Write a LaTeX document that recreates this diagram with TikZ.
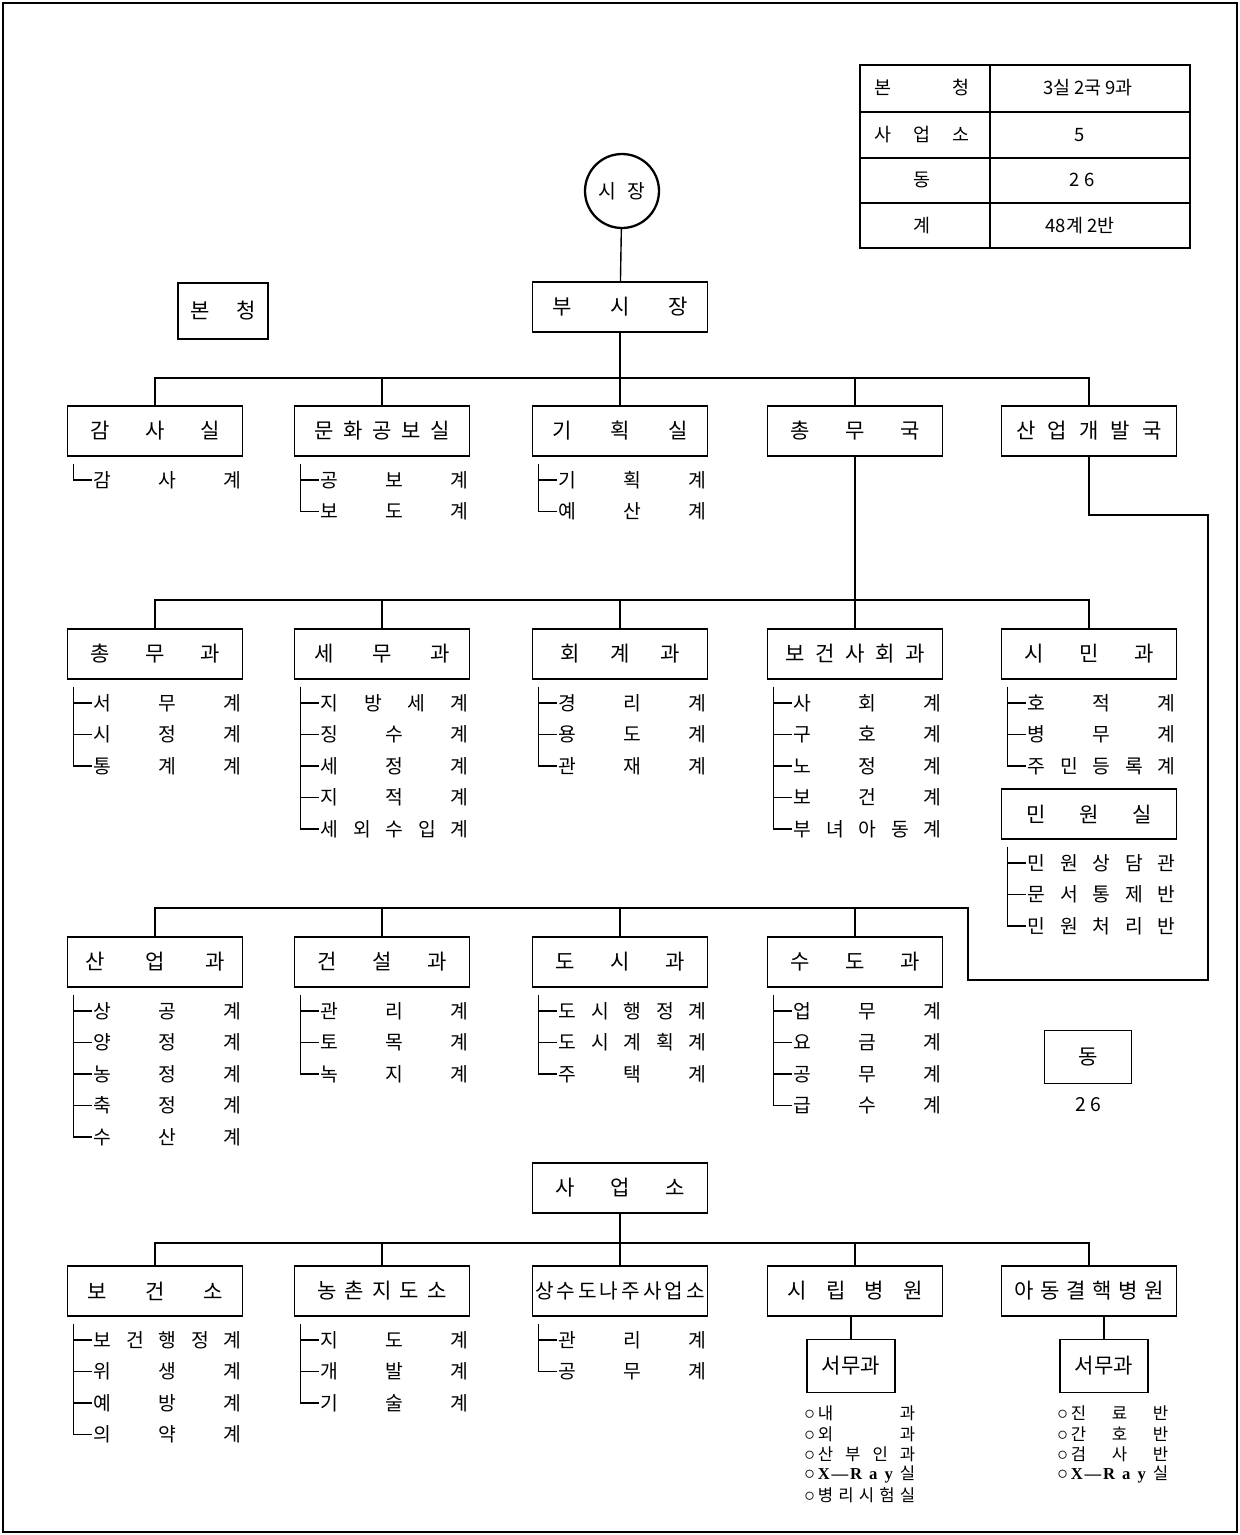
\documentclass[tikz,border=0pt]{standalone}
\usepackage{fontspec}
\setmainfont{Noto Sans CJK KR}
\newfontfamily\rayfont{Liberation Serif}
\usetikzlibrary{positioning}

%% letter spacing over a fixed width
\def\spacedaux#1#2{#1\ifx#2\relax\else\hfill\expandafter\spacedaux\expandafter#2\fi}
\newcommand{\spaced}[2][2.6cm]{\makebox[#1][s]{\spacedaux#2\relax}}
\newcommand{\listtext}[1]{\makebox[2.96cm][s]{\spacedaux#1\relax}}
\newcommand{\hosptext}[1]{\makebox[1.95cm][s]{\spacedaux#1\relax}}
\newcommand{\xray}{{\rayfont\bfseries X\hspace{1pt}—\hspace{1pt}R\hfill a\hfill y}\hfill 실}

%% bracketed list of sections under a box
\newcommand{\sublist}[2]{%
	\coordinate (#1-top) at ([xshift=0.14cm, yshift=-0.14cm]#1.south west);
	\foreach \t [count=\i] in {#2} {
		\node[listitem] (#1-\i) at ([xshift=0.5cm, yshift=-0.46cm-(\i-1)*0.63cm]#1.south west) {\expandafter\listtext\expandafter{\t}};
		\draw[conn] (#1-top) |- (#1-\i.west);
	}
}
%% bullet list under a hospital office
\newcommand{\hosplist}[2]{%
	\foreach \t [count=\i] in {#2} {
		\node[hospitem] (#1-\i) at ([xshift=-0.04cm, yshift=-0.4cm-(\i-1)*0.41cm]#1.south west) {{\large$\circ$}\,\expandafter\hosptext\expandafter{\t}};
	}
}

\begin{document}
\begin{tikzpicture}[x=0.02cm, y=-0.02cm,
	orgbox/.style={draw, line width=1pt, minimum width=3.5cm, minimum height=1cm, inner sep=0pt, font=\fontsize{12}{14}\selectfont},
	smallbox/.style={orgbox, minimum width=1.76cm, minimum height=1.06cm},
	listitem/.style={anchor=west, inner sep=1pt, font=\fontsize{11}{13}\selectfont},
	hospitem/.style={anchor=west, inner sep=0pt, font=\fontsize{9.5}{11}\selectfont},
	cell/.style={inner sep=0pt, font=\fontsize{10.5}{12}\selectfont},
	conn/.style={line width=0.8pt}]
	\useasboundingbox (0, 0) rectangle (1240, 1535);

	%% frame
	\draw[line width=0.8pt] (3, 3) rectangle (1237, 1532);

	%% summary table
	\draw[line width=1pt] (860, 65) rectangle (1190, 248);
	\draw[conn] (990, 65) -- (990, 248);
	\foreach \y in {112, 158, 203}
		\draw[conn] (860, \y) -- (1190, \y);
	\node[cell] (tab-l1) at (922, 88) {\spaced[1.9cm]{본청}};
	\node[cell] (tab-r1) at (1088, 88) {3실 2국 9과};
	\node[cell] (tab-l2) at (922, 135) {\spaced[1.9cm]{사업소}};
	\node[cell] (tab-r2) at (1080, 135) {5};
	\node[cell] (tab-l3) at (922, 180) {동};
	\node[cell] (tab-r3) at (1082, 180) {2 6};
	\node[cell] (tab-l4) at (922, 226) {계};
	\node[cell] (tab-r4) at (1080, 226) {48계 2반};

	%% top
	\node[circle, draw, line width=1.3pt, minimum size=1.48cm, inner sep=0pt, font=\fontsize{11}{13}\selectfont] (sijang) at (622, 191) {\spaced[0.95cm]{시장}};
	\node[orgbox] (busijang) at (620, 307) {\spaced[2.7cm]{부시장}};
	\node[orgbox, minimum width=1.8cm, minimum height=1.12cm] (boncheong) at (223, 311) {\spaced[1.3cm]{본청}};

	\coordinate (bus1) at (622, 378);
	\draw[conn] (sijang) -- (busijang);
	\draw[conn] (busijang.south) -- (busijang.south |- bus1);

	%% offices and bureaus
	\node[orgbox] (gamsa) at (155, 431) {\spaced{감사실}};
	\node[orgbox] (munhwa) at (382, 431) {\spaced[2.7cm]{문화공보실}};
	\node[orgbox] (gihoek) at (620, 431) {\spaced[2.7cm]{기획실}};
	\node[orgbox] (chongmuguk) at (855, 431) {\spaced{총무국}};
	\node[orgbox] (saneopguk) at (1089, 431) {\spaced[2.9cm]{산업개발국}};

	\draw[conn] (gamsa.north) |- (bus1) -| (saneopguk.north);
	\foreach \b in {munhwa, gihoek, chongmuguk}
		\draw[conn] (\b.north) -- (\b.north |- bus1);

	\sublist{gamsa}{감사계}
	\sublist{munhwa}{공보계, 보도계}
	\sublist{gihoek}{기획계, 예산계}

	%% divisions under chongmuguk
	\node[orgbox] (chongmukwa) at (155, 654) {\spaced{총무과}};
	\node[orgbox] (semu) at (382, 654) {\spaced[2.7cm]{세무과}};
	\node[orgbox] (hoegye) at (620, 654) {\spaced[2.4cm]{회계과}};
	\node[orgbox] (bogeon) at (855, 654) {\spaced[2.8cm]{보건사회과}};
	\node[orgbox] (simin) at (1089, 654) {\spaced{시민과}};
	\node[orgbox] (minwon) at (1089, 814) {\spaced[2.5cm]{민원실}};

	\coordinate (bus2) at (855, 600);
	\draw[conn] (chongmuguk) -- (bogeon);
	\draw[conn] (chongmukwa.north) |- (bus2) -| (simin.north);
	\foreach \b in {semu, hoegye}
		\draw[conn] (\b.north) -- (\b.north |- bus2);

	\sublist{chongmukwa}{서무계, 시정계, 통계계}
	\sublist{semu}{지방세계, 징수계, 세정계, 지적계, 세외수입계}
	\sublist{hoegye}{경리계, 용도계, 관재계}
	\sublist{bogeon}{사회계, 구호계, 노정계, 보건계, 부녀아동계}
	\sublist{simin}{호적계, 병무계, 주민등록계}
	\sublist{minwon}{민원상담관, 문서통제반, 민원처리반}

	%% divisions under saneopguk
	\node[orgbox] (saneop) at (155, 962) {\spaced[2.8cm]{산업과}};
	\node[orgbox] (geonseol) at (382, 962) {\spaced{건설과}};
	\node[orgbox] (dosi) at (620, 962) {\spaced{도시과}};
	\node[orgbox] (sudo) at (855, 962) {\spaced{수도과}};

	\coordinate (bus3) at (968, 908);
	\coordinate (turn1) at (1208, 980);
	\coordinate (turn2) at (1208, 515);
	\draw[conn] (saneop.north) |- (bus3) |- (turn1) -- (turn2) -| (saneopguk.south);
	\foreach \b in {geonseol, dosi, sudo}
		\draw[conn] (\b.north) -- (\b.north |- bus3);

	\sublist{saneop}{상공계, 양정계, 농정계, 축정계, 수산계}
	\sublist{geonseol}{관리계, 토목계, 녹지계}
	\sublist{dosi}{도시행정계, 도시계획계, 주택계}
	\sublist{sudo}{업무계, 요금계, 공무계, 급수계}

	%% dong
	\node[smallbox, minimum width=1.74cm] (dong) at (1088, 1057) {동};
	\node[font=\fontsize{11}{13}\selectfont, inner sep=0pt, below=0.26cm of dong] (dongcount) {2 6};

	%% business offices
	\node[orgbox] (saeopso) at (620, 1188) {\spaced{사업소}};
	\node[orgbox] (bogeonso) at (155, 1291) {\spaced[2.7cm]{보건소}};
	\node[orgbox] (nongchon) at (382, 1291) {\spaced{농촌지도소}};
	\node[orgbox, font=\fontsize{11.5}{13}\selectfont] (sangsudo) at (620, 1291) {\spaced[3.4cm]{상수도나주사업소}};
	\node[orgbox] (sirip) at (855, 1291) {\spaced[2.7cm]{시립병원}};
	\node[orgbox] (adong) at (1089, 1291) {\spaced[3cm]{아동결핵병원}};

	\coordinate (bus4) at (620, 1243);
	\draw[conn] (saeopso) -- (sangsudo);
	\draw[conn] (bogeonso.north) |- (bus4) -| (adong.north);
	\foreach \b in {nongchon, sirip}
		\draw[conn] (\b.north) -- (\b.north |- bus4);

	\sublist{bogeonso}{보건행정계, 위생계, 예방계, 의약계}
	\sublist{nongchon}{지도계, 개발계, 기술계}
	\sublist{sangsudo}{관리계, 공무계}

	%% hospital offices
	\node[smallbox] (seomu1) at (851, 1366) {서무과};
	\node[smallbox] (seomu2) at (1104, 1366) {서무과};
	\draw[conn] (seomu1.north) -- (seomu1.north |- sirip.south);
	\draw[conn] (seomu2.north) -- (seomu2.north |- adong.south);

	\hosplist{seomu1}{내과, 외과, 산부인과, \xray, 병리시험실}
	\hosplist{seomu2}{진료반, 간호반, 검사반, \xray}
\end{tikzpicture}
\end{document}
